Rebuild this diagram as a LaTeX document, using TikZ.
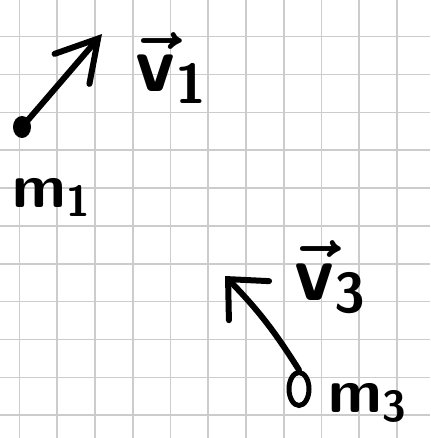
\RequirePackage{fix-cm}
\documentclass[tikz,border=0pt]{standalone}
\usetikzlibrary{arrows.meta,shapes.geometric}
\begin{document}
\begin{tikzpicture}[x=1pt,y=-1pt,
  gridline/.style={draw=gray!40,line width=1.6pt},
  ink/.style={draw=black,line width=6pt,line cap=round,line join=round},
  vlbl/.style={font=\fontsize{80}{80}\selectfont\boldmath,inner sep=0pt,text=black,anchor=base west},
  mlbl/.style={font=\fontsize{62}{62}\selectfont\boldmath,inner sep=0pt,text=black,anchor=base west},
  dotmass/.style={ellipse,fill=black,minimum width=18pt,minimum height=22pt,inner sep=0pt},
  ringmass/.style={ellipse,draw=black,line width=5pt,minimum width=20pt,minimum height=33pt,inner sep=0pt}]
\fill[white] (0,0) rectangle (430,438);
\useasboundingbox (0,0) rectangle (430,438);
\foreach \i in {0,...,10} {
  \draw[gridline] ({19.5+37.75*\i},0) -- ({19.5+37.75*\i},438);
  \draw[gridline] (0,{36.7+37.85*\i}) -- (430,{36.7+37.85*\i});
}
% mass 1 and its velocity
\node[dotmass] (m1) at (22,127) {};
\coordinate (t1) at (102,34);
\draw[ink,-{Straight Barb[length=40pt,width=46pt,line cap=round]}] (m1.center) -- (t1);
% mass 3 and its velocity
\node[ringmass] (m3) at (299,389) {};
\coordinate (t3) at (225,276);
\draw[ink,-{Straight Barb[length=30pt,width=56pt,line cap=round]}] (m3.north) to[bend right=6] (t3);
% labels
\node[vlbl] (v1) at (135,92) {$\vec{\mathsf{v}}_{\mathsf{1}}$};
\node[mlbl] (lm1) at (12,207) {$\mathsf{m}_{\mathsf{1}}$};
\node[vlbl] (v3) at (294,300) {$\vec{\mathsf{v}}_{\mathsf{3}}$};
\node[mlbl] (lm3) at (328,412) {$\mathsf{m}_{\mathsf{3}}$};
\end{tikzpicture}
\end{document}
